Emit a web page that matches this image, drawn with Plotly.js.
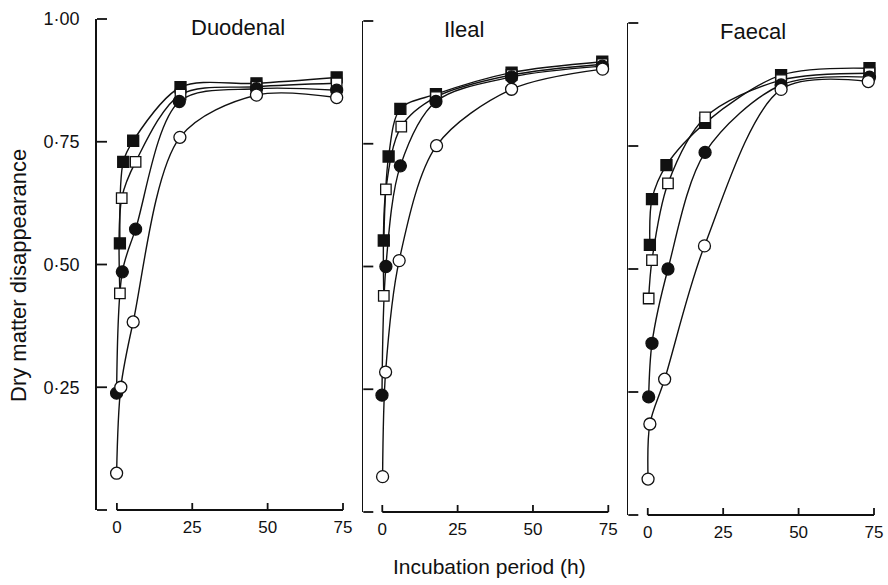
<!DOCTYPE html>
<html>
<head>
<meta charset="utf-8">
<script src="https://cdn.plot.ly/plotly-3.0.1.min.js"></script>
<style>html,body{margin:0;padding:0;background:#fff;}#chart{width:888px;height:585px;}</style>
</head>
<body>
<div id="chart"></div>
<script>
// ---- Data (incubation time in h, dry matter disappearance) ----
const panelTitles = ["Duodenal", "Ileal", "Faecal"];
const xTickVals = [0, 25, 50, 75];
const xTickText = ["0", "25", "50", "75"];
const yTickVals = [0, 0.25, 0.5, 0.75, 1.0];
const yTickText = ["", "0·25", "0·50", "0·75", "1·00"];

// Duodenal
const duoFilledSqT = [1.0, 2.1, 5.4, 21.1, 46.3, 72.9];
const duoFilledSqY = [0.543, 0.709, 0.752, 0.861, 0.869, 0.881];
const duoOpenSqT   = [1.0, 1.6, 6.2, 21.1, 46.3, 72.9];
const duoOpenSqY   = [0.441, 0.635, 0.709, 0.846, 0.862, 0.869];
const duoFilledCiT = [-0.1, 1.8, 6.2, 20.7, 46.3, 72.9];
const duoFilledCiY = [0.238, 0.485, 0.572, 0.832, 0.858, 0.855];
const duoOpenCiT   = [-0.1, 1.3, 5.4, 20.9, 46.3, 72.9];
const duoOpenCiY   = [0.075, 0.250, 0.383, 0.759, 0.845, 0.840];

// Ileal
const ileFilledSqT = [0.5, 2.1, 6.0, 17.8, 42.9, 73.0];
const ileFilledSqY = [0.553, 0.724, 0.821, 0.851, 0.895, 0.917];
const ileOpenSqT   = [0.5, 1.2, 6.3, 17.8, 42.9, 73.0];
const ileOpenSqY   = [0.440, 0.657, 0.785, 0.845, 0.890, 0.912];
const ileFilledCiT = [-0.1, 1.2, 6.0, 17.8, 42.9, 73.0];
const ileFilledCiY = [0.238, 0.500, 0.705, 0.836, 0.886, 0.908];
const ileOpenCiT   = [0.1, 1.1, 5.6, 18.0, 42.9, 73.1];
const ileOpenCiY   = [0.072, 0.285, 0.512, 0.746, 0.861, 0.902];

// Faecal
const faeFilledSqT = [0.7, 1.4, 6.2, 19.0, 44.2, 73.5];
const faeFilledSqY = [0.549, 0.642, 0.711, 0.797, 0.894, 0.908];
const faeOpenSqT   = [0.3, 1.4, 6.7, 19.0, 44.2, 73.5];
const faeOpenSqY   = [0.440, 0.518, 0.674, 0.808, 0.884, 0.898];
const faeFilledCiT = [0.3, 1.4, 6.7, 19.0, 44.2, 73.5];
const faeFilledCiY = [0.240, 0.349, 0.500, 0.737, 0.874, 0.890];
const faeOpenCiT   = [0.1, 0.7, 5.6, 18.8, 44.2, 73.1];
const faeOpenCiY   = [0.073, 0.185, 0.276, 0.547, 0.865, 0.881];

const panels = [
  [[duoFilledSqT, duoFilledSqY], [duoOpenSqT, duoOpenSqY], [duoFilledCiT, duoFilledCiY], [duoOpenCiT, duoOpenCiY]],
  [[ileFilledSqT, ileFilledSqY], [ileOpenSqT, ileOpenSqY], [ileFilledCiT, ileFilledCiY], [ileOpenCiT, ileOpenCiY]],
  [[faeFilledSqT, faeFilledSqY], [faeOpenSqT, faeOpenSqY], [faeFilledCiT, faeFilledCiY], [faeOpenCiT, faeOpenCiY]]
];

// ---- Styling ----
const INK = "#111";
const FONT = "Liberation Sans, Arial, sans-serif";
const styles = [
  {symbol: "square", fill: INK, size: 11},
  {symbol: "square", fill: "#fff", size: 10.5},
  {symbol: "circle", fill: INK, size: 12},
  {symbol: "circle", fill: "#fff", size: 12}
];

const W = 888, H = 585;
const px = v => v / W;
const py = v => 1 - v / H;
const xDomains = [[px(97), px(343)], [px(363.3), px(608.3)], [px(628.3), px(874)]];
const xRanges = [[-6.6, 75], [-6.3, 75], [-6.45, 75]];
const yDomains = [[py(510), py(19)], [py(512), py(21)], [py(515), py(23)]];
const yRange = [0, 1];

const traces = [];
panels.forEach((series, p) => {
  const xa = p === 0 ? "x" : "x" + (p + 1);
  const ya = p === 0 ? "y" : "y" + (p + 1);
  series.forEach(s => {
    traces.push({
      x: s[0], y: s[1], xaxis: xa, yaxis: ya, mode: "lines",
      line: {color: INK, width: 1.4, shape: "spline", smoothing: 0.9},
      hoverinfo: "skip", showlegend: false
    });
  });
  series.forEach((s, i) => {
    traces.push({
      x: s[0], y: s[1], xaxis: xa, yaxis: ya, mode: "markers",
      marker: {symbol: styles[i].symbol, size: styles[i].size, color: styles[i].fill,
               line: {color: INK, width: 1.3}},
      cliponaxis: false, showlegend: false
    });
  });
});

// ---- Axis decorations (x baseline 0..75 h, inward ticks) on a full-page pixel overlay ----
const xPix = (p, v) => W * xDomains[p][0] + (v - xRanges[p][0]) / (xRanges[p][1] - xRanges[p][0]) * W * (xDomains[p][1] - xDomains[p][0]);
const yPix = (p, v) => H * (1 - yDomains[p][0]) - (v - yRange[0]) / (yRange[1] - yRange[0]) * H * (yDomains[p][1] - yDomains[p][0]);
const decoX = [], decoY = [];
for (let p = 0; p < 3; p++) {
  const yb = yPix(p, 0);
  // baseline
  decoX.push(xPix(p, xTickVals[0]), xPix(p, xTickVals[xTickVals.length - 1]), null);
  decoY.push(yb, yb, null);
  // x ticks (upwards)
  xTickVals.forEach(tv => {
    decoX.push(xPix(p, tv), xPix(p, tv), null);
    decoY.push(yb, yb - 7, null);
  });
  // y ticks (to the right)
  const xl = W * xDomains[p][0];
  yTickVals.forEach(tv => {
    decoX.push(xl, xl + 10, null);
    decoY.push(yPix(p, tv), yPix(p, tv), null);
  });
}
traces.push({
  x: decoX, y: decoY, xaxis: "x4", yaxis: "y4", mode: "lines",
  line: {color: INK, width: 1.8}, connectgaps: false, hoverinfo: "skip", showlegend: false
});

const layout = {
  width: W, height: H,
  margin: {l: 0, r: 0, t: 0, b: 0},
  paper_bgcolor: "#fff", plot_bgcolor: "rgba(0,0,0,0)",
  font: {family: FONT, color: INK},
  showlegend: false,
  annotations: [],
  xaxis4: {domain: [0, 1], range: [0, W], visible: false, fixedrange: true, anchor: "y4"},
  yaxis4: {domain: [0, 1], range: [H, 0], visible: false, fixedrange: true, anchor: "x4"}
};

for (let p = 0; p < 3; p++) {
  const sfx = p === 0 ? "" : String(p + 1);
  layout["xaxis" + sfx] = {
    domain: xDomains[p], range: xRanges[p], anchor: "y" + sfx,
    showgrid: false, zeroline: false, showline: false, ticks: "",
    tickmode: "array", tickvals: xTickVals, ticktext: xTickText,
    tickfont: {family: FONT, size: 17, color: INK}, ticklabelstandoff: 5,
    fixedrange: true
  };
  layout["yaxis" + sfx] = {
    domain: yDomains[p], range: yRange, anchor: "x" + sfx,
    showgrid: false, zeroline: false, showline: true, linecolor: INK, linewidth: 1.8,
    ticks: "", tickmode: "array", tickvals: yTickVals, ticktext: yTickText,
    showticklabels: p === 0,
    tickfont: {family: FONT, size: 18, color: INK}, ticklabelstandoff: 12,
    fixedrange: true
  };
}

const titleX = [237.5, 464, 753];
const titleY = [27, 29, 31];
panelTitles.forEach((t, i) => {
  layout.annotations.push({
    text: t, xref: "paper", yref: "paper", x: px(titleX[i]), y: py(titleY[i]),
    xanchor: "center", yanchor: "middle", showarrow: false,
    font: {family: FONT, size: 22, color: INK}
  });
});
layout.annotations.push({
  text: "Incubation period (h)", xref: "paper", yref: "paper",
  x: px(489), y: py(566), xanchor: "center", yanchor: "middle", showarrow: false,
  font: {family: FONT, size: 21, color: INK}
});
layout.annotations.push({
  text: "Dry matter disappearance", xref: "paper", yref: "paper",
  x: px(18), y: py(276), xanchor: "center", yanchor: "middle", showarrow: false,
  textangle: -90,
  font: {family: FONT, size: 22, color: INK}
});

Plotly.newPlot("chart", traces, layout, {displayModeBar: false, staticPlot: true});
</script>
</body>
</html>
